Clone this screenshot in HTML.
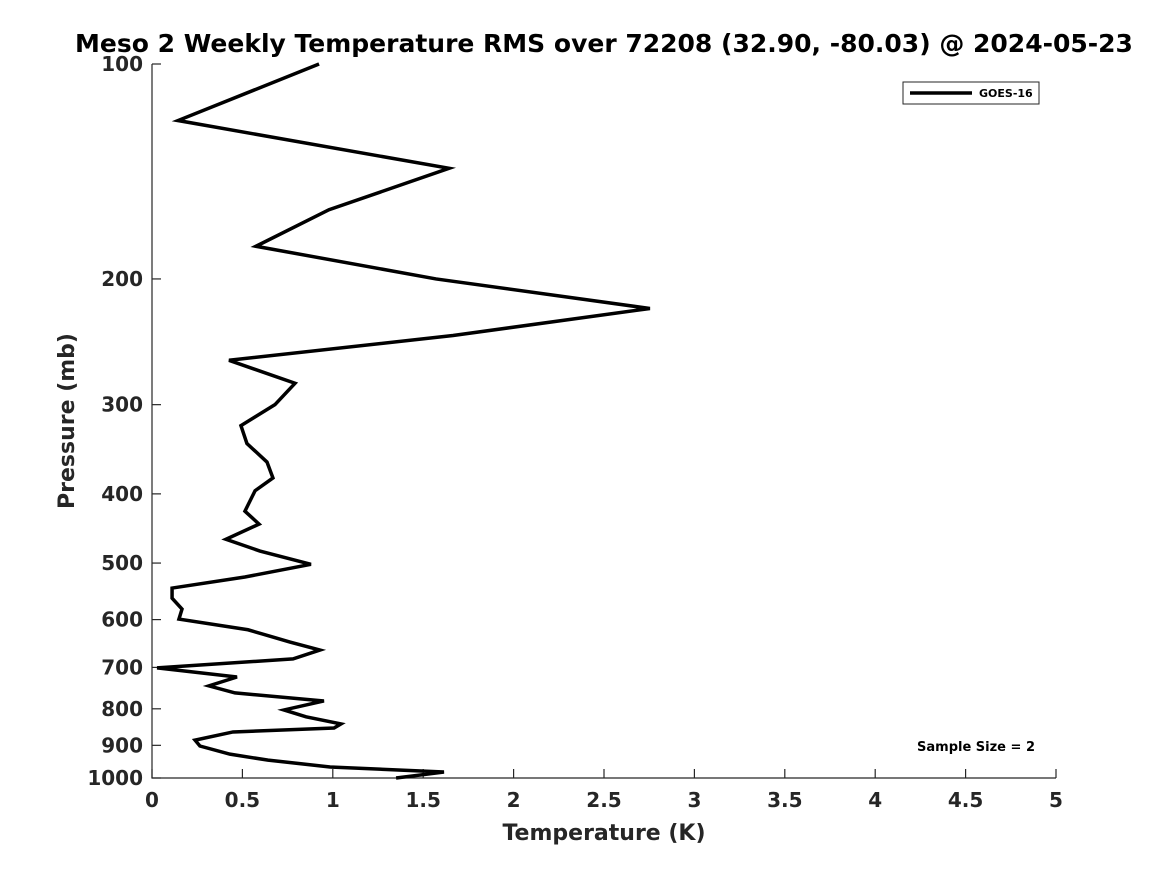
<!DOCTYPE html>
<html><head><meta charset="utf-8"><style>
body{margin:0;background:#fff;}
svg{display:block;font-family:"DejaVu Sans","Liberation Sans",sans-serif;}
</style></head><body>
<svg id="chart" width="1167" height="875"></svg>
<script>
const pressures=[100,120,140,160,180,200,220,240,260,280,300,321,340,361,380,396,423,441,463,481,502,523,542,560,580,599,620,645,662,681,701,722,743,760,780,803,821,840,851,862,885,902,926,944,965,981,1000];
const rmsValues=[0.924,0.144,1.643,0.979,0.575,1.571,2.754,1.665,0.426,0.791,0.680,0.492,0.525,0.636,0.669,0.570,0.514,0.592,0.409,0.597,0.879,0.514,0.111,0.111,0.166,0.149,0.531,0.763,0.929,0.780,0.028,0.470,0.315,0.459,0.951,0.730,0.852,1.045,1.007,0.448,0.238,0.265,0.431,0.642,0.985,1.615,1.350];
const xTicks=[0,0.5,1,1.5,2,2.5,3,3.5,4,4.5,5];
const xTickLabels=["0","0.5","1","1.5","2","2.5","3","3.5","4","4.5","5"];
const yTicks=[100,200,300,400,500,600,700,800,900,1000];
const yTickLabels=["100","200","300","400","500","600","700","800","900","1000"];

const NS="http://www.w3.org/2000/svg";
const svg=document.getElementById('chart');
const L=152,R=1056,T=64,B=778;
const xs=v=>L+(v-0)/(5-0)*(R-L);
const ys=p=>T+Math.log10(p/100)*(B-T);
function mk(tag,attrs,parent){const e=document.createElementNS(NS,tag);for(const k in attrs)e.setAttribute(k,attrs[k]);(parent||svg).appendChild(e);return e;}

const title=mk('text',{x:604,y:52,'text-anchor':'middle','font-size':25,'font-weight':'bold',fill:'#000'});


title.textContent='Meso 2 Weekly Temperature RMS over 72208 (32.90, -80.03) @ 2024-05-23';

const axes=mk('path',{d:`M${L},${T}V${B}H${R}`,fill:'none',stroke:'#262626','stroke-width':1.2});



xTicks.forEach((v,i)=>{
  const x=xs(v);
  const t=mk('line',{x1:x,x2:x,y1:B,y2:B-9,stroke:'#262626','stroke-width':1.2});
  
  
  const l=mk('text',{x:x,y:B+29,'text-anchor':'middle','font-size':20,'font-weight':'bold',fill:'#262626'});
  
  
  l.textContent=xTickLabels[i];
});
yTicks.forEach((p,i)=>{
  const y=ys(p);
  const t=mk('line',{x1:L,x2:L+9,y1:y,y2:y,stroke:'#262626','stroke-width':1.2});
  
  
  const l=mk('text',{x:L-9,y:y+7,'text-anchor':'end','font-size':20,'font-weight':'bold',fill:'#262626'});
  
  
  l.textContent=yTickLabels[i];
});

const xt=mk('text',{x:604,y:840,'text-anchor':'middle','font-size':22,'font-weight':'bold',fill:'#262626'});


xt.textContent='Temperature (K)';
const yt=mk('text',{x:0,y:0,'text-anchor':'middle','font-size':22,'font-weight':'bold',fill:'#262626',transform:'translate(74,421) rotate(-90)'});


yt.textContent='Pressure (mb)';

const line=mk('polyline',{points:pressures.map((p,i)=>xs(rmsValues[i])+','+ys(p)).join(' '),fill:'none',stroke:'#000','stroke-width':3.5,'stroke-linejoin':'miter'});



const lg=mk('g',{});


mk('rect',{x:903,y:82,width:136,height:22,fill:'#fff',stroke:'#262626','stroke-width':1},lg);
mk('line',{x1:910,x2:972,y1:93,y2:93,stroke:'#000','stroke-width':3.5},lg);
const lt=mk('text',{x:979,y:97,'font-size':11,'font-weight':'bold',fill:'#000'},lg);


lt.textContent='GOES-16';

const ss=mk('text',{x:1035,y:751,'text-anchor':'end','font-size':13,'font-weight':'bold',fill:'#000'});


ss.textContent='Sample Size = 2';
</script>
</body></html>
